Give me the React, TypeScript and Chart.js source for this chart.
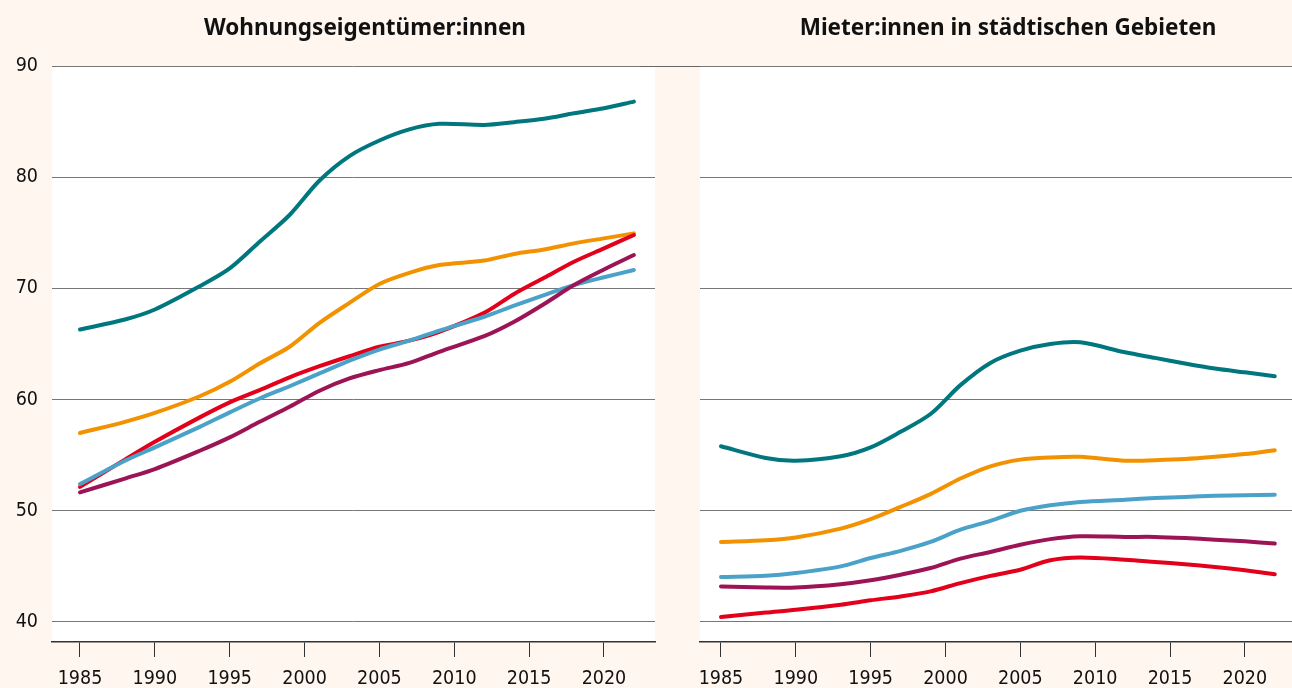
import React, { useEffect, useRef } from "react";
import { Chart, registerables } from "chart.js";

Chart.register(...registerables);

const years = [1985, 1988, 1990, 1993, 1995, 1997, 1999, 2001, 2003, 2005, 2007, 2009, 2012, 2014, 2016, 2018, 2020, 2022];
const xTickYears = [1985, 1990, 1995, 2000, 2005, 2010, 2015, 2020];
const yTickValues = [40, 50, 60, 70, 80, 90];

const ownersTeal = [66.3, 67.2, 68.1, 70.2, 71.8, 74.2, 76.6, 79.7, 81.9, 83.3, 84.3, 84.8, 84.7, 84.95, 85.25, 85.75, 86.2, 86.8];
const ownersOrange = [57.0, 58.0, 58.8, 60.3, 61.6, 63.25, 64.75, 66.9, 68.7, 70.4, 71.4, 72.1, 72.5, 73.1, 73.5, 74.05, 74.5, 74.95];
const ownersRed = [52.15, 54.6, 56.2, 58.4, 59.75, 60.85, 62.0, 63.0, 63.9, 64.75, 65.3, 66.1, 67.8, 69.5, 70.95, 72.4, 73.6, 74.8];
const ownersBlue = [52.4, 54.5, 55.7, 57.55, 58.85, 60.1, 61.2, 62.35, 63.5, 64.5, 65.3, 66.2, 67.45, 68.45, 69.4, 70.3, 71.0, 71.65];
const ownersPurple = [51.65, 52.9, 53.75, 55.4, 56.6, 58.0, 59.35, 60.8, 61.9, 62.65, 63.3, 64.3, 65.7, 67.0, 68.6, 70.3, 71.7, 73.0];

const rentersTeal = [55.8, 54.75, 54.5, 54.9, 55.7, 57.1, 58.7, 61.3, 63.3, 64.4, 65.0, 65.15, 64.25, 63.75, 63.25, 62.8, 62.45, 62.1];
const rentersOrange = [47.2, 47.35, 47.6, 48.4, 49.25, 50.35, 51.5, 52.9, 54.0, 54.6, 54.8, 54.85, 54.5, 54.55, 54.65, 54.85, 55.1, 55.45];
const rentersBlue = [44.05, 44.15, 44.4, 45.0, 45.75, 46.4, 47.2, 48.3, 49.1, 50.0, 50.5, 50.8, 51.0, 51.15, 51.25, 51.35, 51.4, 51.45];
const rentersPurple = [43.2, 43.1, 43.1, 43.4, 43.75, 44.25, 44.85, 45.7, 46.3, 46.95, 47.45, 47.7, 47.65, 47.65, 47.55, 47.4, 47.25, 47.05];
const rentersRed = [40.45, 40.85, 41.1, 41.55, 41.95, 42.3, 42.75, 43.5, 44.15, 44.7, 45.55, 45.8, 45.6, 45.4, 45.2, 44.95, 44.65, 44.3];

const COLORS = {
  teal: "#00777e",
  orange: "#f39200",
  red: "#e2001a",
  blue: "#4ba2c9",
  purple: "#9c1456",
};

const BG = "#fef6ef";
const FONT = "'Noto Sans', 'Open Sans', sans-serif";
const TICK_FONT = "'Liberation Sans Narrow', 'DejaVu Sans Condensed', 'Noto Sans', sans-serif";

function toPoints(vals: number[]) {
  return years.map((y, i) => ({ x: y, y: vals[i] }));
}

function ds(vals: number[], color: string) {
  return {
    data: toPoints(vals),
    borderColor: color,
    backgroundColor: color,
    borderWidth: 4,
    pointRadius: 0,
    tension: 0.3,
    borderCapStyle: "round" as const,
    borderJoinStyle: "round" as const,
  };
}

const whiteArea = {
  id: "whiteArea",
  beforeDraw(chart: any) {
    const { ctx, chartArea } = chart;
    ctx.save();
    ctx.fillStyle = "#ffffff";
    ctx.fillRect(chartArea.left, chartArea.top, chartArea.right - chartArea.left, chartArea.bottom - chartArea.top);
    ctx.restore();
  },
};

const topLineExtend = {
  id: "topLineExtend",
  afterDraw(chart: any) {
    const opts = chart.options.plugins.topLineExtend;
    if (!opts || !opts.enabled) return;
    const { ctx, chartArea } = chart;
    const y = chart.scales.y.getPixelForValue(90);
    ctx.save();
    ctx.strokeStyle = "#666";
    ctx.lineWidth = 1;
    ctx.beginPath();
    ctx.moveTo(0, Math.round(y) + 0.5);
    ctx.lineTo(chartArea.left, Math.round(y) + 0.5);
    ctx.stroke();
    ctx.restore();
  },
};

function makeConfig(datasets: any[], xmin: number, xmax: number, leftWidth: number, showYLabels: boolean, padRight: number, extend: boolean) {
  return {
    type: "line" as const,
    data: { datasets },
    plugins: [whiteArea, topLineExtend],
    options: {
      animation: false as const,
      responsive: false,
      maintainAspectRatio: false,
      events: [],
      layout: { padding: { top: 66, right: padRight, left: 0, bottom: 0 } },
      plugins: {
        legend: { display: false },
        tooltip: { enabled: false },
        title: { display: false },
        topLineExtend: { enabled: extend },
      },
      scales: {
        x: {
          type: "linear" as const,
          min: xmin,
          max: xmax,
          afterBuildTicks(scale: any) {
            scale.ticks = xTickYears.map((v) => ({ value: v }));
          },
          afterFit(scale: any) {
            scale.height = 46;
          },
          grid: {
            drawOnChartArea: false,
            drawTicks: true,
            tickLength: 15,
            tickColor: "#333",
            tickWidth: 1,
          },
          border: { display: true, color: "#333", width: 1.5 },
          ticks: {
            color: "#111",
            font: { family: TICK_FONT, size: 19.5 },
            padding: 10,
            maxRotation: 0,
            autoSkip: false,
            callback: (v: any) => String(v),
          },
        },
        y: {
          type: "linear" as const,
          min: 38.2,
          max: 90,
          afterBuildTicks(scale: any) {
            scale.ticks = yTickValues.map((v) => ({ value: v }));
          },
          afterFit(scale: any) {
            scale.width = leftWidth;
          },
          grid: {
            color: "#777",
            lineWidth: 1,
            drawTicks: false,
          },
          border: { display: false },
          ticks: {
            display: showYLabels,
            color: "#111",
            font: { family: TICK_FONT, size: 19.5 },
            padding: 14,
            callback: (v: any) => String(v),
          },
        },
      },
    },
  };
}

function ChartCanvas({ config, width, height, style }: any) {
  const ref = useRef<HTMLCanvasElement | null>(null);
  useEffect(() => {
    if (!ref.current) return;
    const chart = new Chart(ref.current, config);
    return () => chart.destroy();
  }, []);
  return <canvas ref={ref} width={width} height={height} style={{ position: "absolute", width, height, ...style }} />;
}

export default function App() {
  const leftDatasets = [
    ds(ownersPurple, COLORS.purple),
    ds(ownersBlue, COLORS.blue),
    ds(ownersRed, COLORS.red),
    ds(ownersOrange, COLORS.orange),
    ds(ownersTeal, COLORS.teal),
  ];
  const rightDatasets = [
    ds(rentersPurple, COLORS.purple),
    ds(rentersBlue, COLORS.blue),
    ds(rentersRed, COLORS.red),
    ds(rentersOrange, COLORS.orange),
    ds(rentersTeal, COLORS.teal),
  ];
  const leftConfig = makeConfig(leftDatasets, 1983.13, 2023.41, 52, true, 5, false);
  const rightConfig = makeConfig(rightDatasets, 1983.6, 2023.15, 60, false, 0, true);

  const titleStyle: React.CSSProperties = {
    position: "absolute",
    top: 10,
    fontFamily: FONT,
    fontWeight: 700,
    fontSize: 22.5,
    lineHeight: "34px",
    color: "#111",
    textAlign: "center",
    whiteSpace: "nowrap",
  };

  return (
    <div style={{ position: "fixed", left: 0, top: 0, width: 1292, height: 688, background: BG, overflow: "hidden" }}>
      <ChartCanvas config={leftConfig} width={660} height={688} style={{ left: 0, top: 0 }} />
      <ChartCanvas config={rightConfig} width={652} height={688} style={{ left: 640, top: 0 }} />
      <div style={{ ...titleStyle, left: 65, width: 600 }}>Wohnungseigentümer:innen</div>
      <div style={{ ...titleStyle, left: 708, width: 600 }}>Mieter:innen in städtischen Gebieten</div>
    </div>
  );
}
